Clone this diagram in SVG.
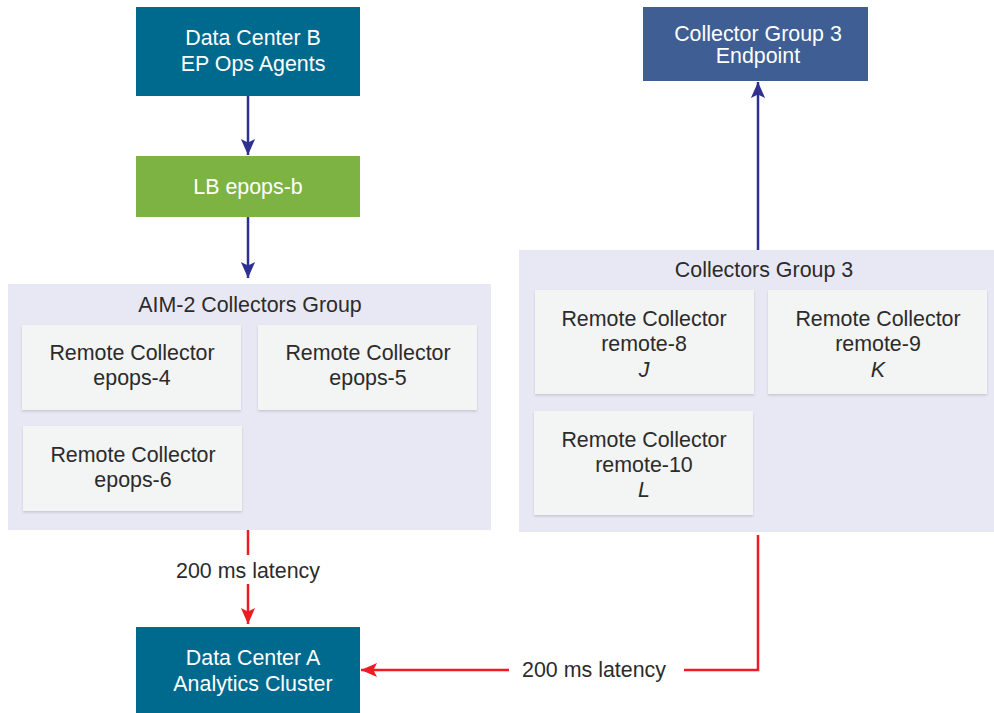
<svg xmlns="http://www.w3.org/2000/svg" width="994" height="713" viewBox="0 0 994 713">
<style>
text{font-family:"Liberation Sans",Arial,Helvetica,sans-serif;font-size:21.4px;text-anchor:middle}
.w{fill:#ffffff}
.d{fill:#2b2b2b}
.grp{fill:#e8e8f4}
.card{fill:#f3f4f4;filter:url(#sh)}
.blue{stroke:#2e3192;stroke-width:2.5;fill:none}
.red{stroke:#ed1c24;stroke-width:2.5;fill:none}
</style>
<defs>
<filter id="sh" x="-5%" y="-5%" width="110%" height="115%">
<feDropShadow dx="0" dy="1.5" stdDeviation="1.2" flood-color="#000" flood-opacity="0.15"/>
</filter>
<marker id="ab" markerWidth="16" markerHeight="18" refX="18" refY="8" viewBox="0 0 18 16" orient="auto" markerUnits="userSpaceOnUse">
<path d="M0,0 L18,8 L0,16 L4,8 Z" fill="#2e3192"/>
</marker>
<marker id="ar" markerWidth="16" markerHeight="18" refX="18" refY="8" viewBox="0 0 18 16" orient="auto" markerUnits="userSpaceOnUse">
<path d="M0,0 L18,8 L0,16 L4,8 Z" fill="#ed1c24"/>
</marker>
</defs>

<g id="dcb">
<rect x="136" y="7" width="224" height="89" fill="#006a8e"/>
<text class="w" x="253" y="45">Data Center B</text>
<text class="w" x="253" y="71">EP Ops Agents</text>
</g>

<g id="lb">
<rect x="136" y="156" width="224" height="61" fill="#7cb342"/>
<text class="w" x="248" y="194">LB epops-b</text>
</g>

<g id="endpoint">
<rect x="643" y="7" width="225" height="74" fill="#3e5e94"/>
<text class="w" x="758" y="41">Collector Group 3</text>
<text class="w" x="758" y="63">Endpoint</text>
</g>

<g id="aim2">
<rect class="grp" x="8" y="284" width="483" height="246"/>
<text class="d" x="250" y="312">AIM-2 Collectors Group</text>
</g>
<g id="epops4">
<rect class="card" x="22" y="325" width="219" height="85"/>
<text class="d" x="132" y="360">Remote Collector</text>
<text class="d" x="132" y="385">epops-4</text>
</g>
<g id="epops5">
<rect class="card" x="258" y="325" width="219" height="85"/>
<text class="d" x="368" y="360">Remote Collector</text>
<text class="d" x="368" y="385">epops-5</text>
</g>
<g id="epops6">
<rect class="card" x="23" y="426" width="219" height="85"/>
<text class="d" x="133" y="462">Remote Collector</text>
<text class="d" x="133" y="487">epops-6</text>
</g>

<g id="cg3">
<rect class="grp" x="519" y="250" width="475" height="282"/>
<text class="d" x="764" y="277">Collectors Group 3</text>
</g>
<g id="remote8">
<rect class="card" x="535" y="290" width="219" height="104"/>
<text class="d" x="644" y="326">Remote Collector</text>
<text class="d" x="644" y="351">remote-8</text>
<text class="d" x="644" y="377" font-style="italic">J</text>
</g>
<g id="remote9">
<rect class="card" x="768" y="290" width="219" height="104"/>
<text class="d" x="878" y="326">Remote Collector</text>
<text class="d" x="878" y="351">remote-9</text>
<text class="d" x="878" y="377" font-style="italic">K</text>
</g>
<g id="remote10">
<rect class="card" x="534" y="411" width="219" height="104"/>
<text class="d" x="644" y="447">Remote Collector</text>
<text class="d" x="644" y="472">remote-10</text>
<text class="d" x="644" y="497" font-style="italic">L</text>
</g>

<g id="dca">
<rect x="136" y="627" width="224" height="86" fill="#006a8e"/>
<text class="w" x="253" y="665">Data Center A</text>
<text class="w" x="253" y="691">Analytics Cluster</text>
</g>

<g id="connectors">
<line class="blue" x1="248" y1="96" x2="248" y2="155" marker-end="url(#ab)"/>
<line class="blue" x1="248" y1="217" x2="248" y2="278" marker-end="url(#ab)"/>
<line class="blue" x1="758" y1="250" x2="758" y2="82" marker-end="url(#ab)"/>
<line class="red" x1="248" y1="530" x2="248" y2="555"/>
<line class="red" x1="248" y1="584" x2="248" y2="624" marker-end="url(#ar)"/>
<text class="d" x="248" y="578">200 ms latency</text>
<polyline class="red" points="758,535 758,670 684,670"/>
<line class="red" x1="509" y1="670" x2="361" y2="670" marker-end="url(#ar)"/>
<text class="d" x="594" y="677">200 ms latency</text>
</g>
</svg>
